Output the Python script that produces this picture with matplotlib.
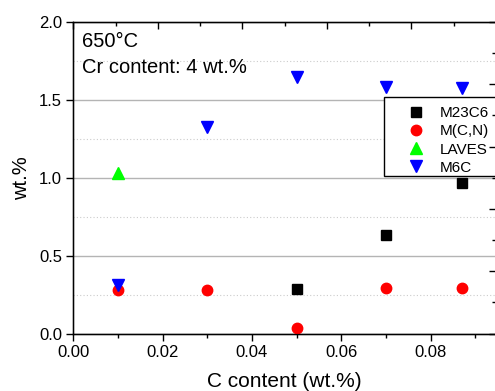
import matplotlib
matplotlib.use("Agg")
import matplotlib.pyplot as plt
from matplotlib.ticker import MultipleLocator
from matplotlib.patches import Rectangle

plt.rcParams['font.family'] = ['Liberation Sans', 'DejaVu Sans']

# C content (wt.%) and phase fractions (wt.%)
c_m23c6 = [0.05, 0.07, 0.087]
m23c6 = [0.285, 0.63, 0.965]
c_mcn = [0.01, 0.03, 0.05, 0.07, 0.087]
mcn = [0.28, 0.28, 0.035, 0.29, 0.29]
c_laves = [0.01]
laves = [1.03]
c_m6c = [0.01, 0.03, 0.05, 0.07, 0.087]
m6c = [0.31, 1.325, 1.645, 1.58, 1.575]

W, H = 495, 391
fig = plt.figure(figsize=(W / 100, H / 100), dpi=100)
x0, x1, y0, y1 = 73.3, 496, 22, 333.5
ax = fig.add_axes([x0 / W, 1 - y1 / H, (x1 - x0) / W, (y1 - y0) / H])

ax.plot(c_m23c6, m23c6, 's', color='black', ms=6.5, label='M23C6', zorder=3)
ax.plot(c_mcn, mcn, 'o', color='red', ms=7.5, label='M(C,N)', zorder=3)
ax.plot(c_laves, laves, '^', color='#00ff00', ms=8, label='LAVES', zorder=3)
ax.plot(c_m6c, m6c, 'v', color='blue', ms=8, label='M6C', zorder=3)

ax.set_xlim(0, (x1 - x0) / 4467)
ax.set_ylim(0, 2.0)
ax.xaxis.set_major_locator(MultipleLocator(0.02))
ax.xaxis.set_minor_locator(MultipleLocator(0.01))
ax.yaxis.set_major_locator(MultipleLocator(0.5))
ax.yaxis.set_minor_locator(MultipleLocator(0.25))
ax.xaxis.set_major_formatter(matplotlib.ticker.FormatStrFormatter('%.2f'))
ax.yaxis.set_major_formatter(matplotlib.ticker.FormatStrFormatter('%.1f'))
ax.tick_params(which='major', direction='out', length=5, width=1, labelsize=12, pad=3)
ax.tick_params(axis='x', which='minor', direction='out', length=3, width=1)
ax.tick_params(axis='y', which='minor', length=0)

ax.set_axisbelow(True)
ax.yaxis.grid(True, which='major', color='#b4b4b4', lw=1.0, ls='-')
ax.yaxis.grid(True, which='minor', color='#cccccc', lw=0.8, ls=(0, (1, 2)))
for s in ax.spines.values():
    s.set_linewidth(1.0)

# top and right axes of the overlay layer
axt = ax.twiny()
axt.set_xlim(0, 10)
axt.xaxis.set_major_locator(MultipleLocator(2))
axt.xaxis.set_minor_locator(MultipleLocator(1))
axt.tick_params(which='major', direction='in', length=5, width=1, labeltop=False)
axt.tick_params(which='minor', direction='in', length=3, width=1)
axr = ax.twinx()
axr.set_ylim(0, 10)
axr.yaxis.set_major_locator(MultipleLocator(2))
axr.yaxis.set_minor_locator(MultipleLocator(1))
axr.tick_params(which='major', direction='in', length=5, width=1, labelright=False)
axr.tick_params(which='minor', direction='in', length=3, width=1)
axt.set_zorder(1)
axr.set_zorder(1)

ax.set_xlabel('C content (wt.%)', fontsize=15, labelpad=9)
ax.set_ylabel('wt.%', fontsize=14.5, labelpad=6)

ax.text(0.021, 0.92, '650°C', transform=ax.transAxes, fontsize=14.5)
ax.text(0.021, 0.836, 'Cr content: 4 wt.%', transform=ax.transAxes, fontsize=14.5)

fig.patches.append(Rectangle((384 / W, 1 - 176 / H), 120 / W, 79 / H,
                             transform=fig.transFigure, facecolor='white',
                             edgecolor='black', lw=1.0, zorder=0.5))
h, l = ax.get_legend_handles_labels()
leg = fig.legend(h, l, loc='upper left', bbox_to_anchor=(405 / W, 1 - 106 / H),
                 frameon=False, fontsize=11, handlelength=1.5, handletextpad=0.75,
                 labelspacing=0.28, borderpad=0.0, borderaxespad=0)
leg.set_zorder(0.6)

fig.savefig('out.png', dpi=100)
